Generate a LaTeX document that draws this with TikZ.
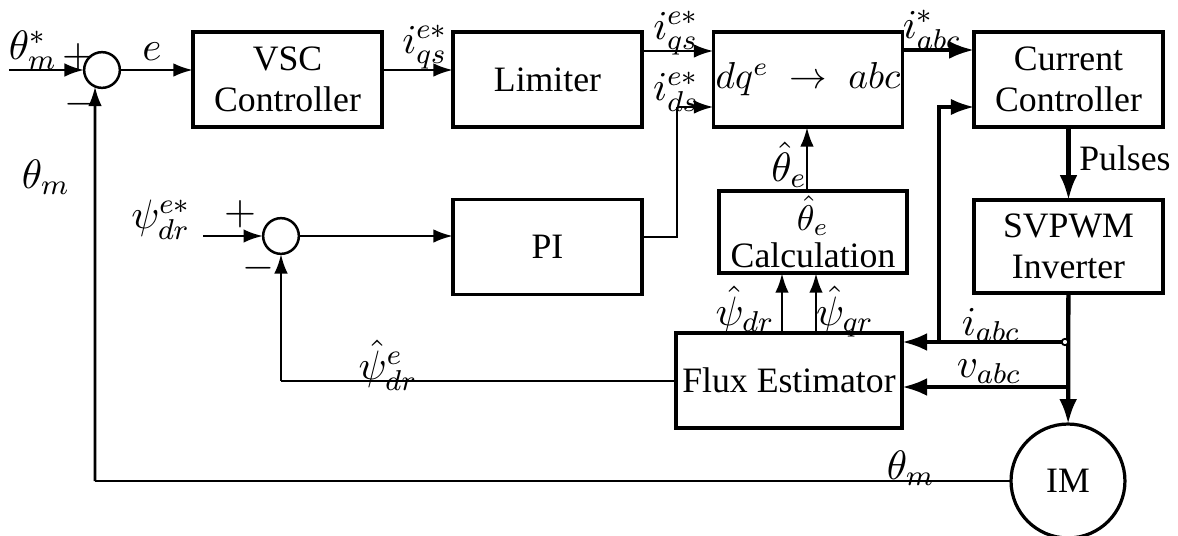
\documentclass[tikz,border=0pt]{standalone}
\usepackage{fix-cm}
\usepackage{fontspec}
\setmainfont{Liberation Serif}
\usetikzlibrary{arrows.meta}
\begin{document}
\begin{tikzpicture}[x=0.28pt,y=-0.28pt,
  blk/.style={draw,line width=0.9pt,inner sep=0pt,outer sep=0pt,minimum width=52.9pt,minimum height=26.6pt,align=center,font=\fontsize{10}{11.5}\selectfont},
  sumc/.style={draw,circle,line width=0.7pt,inner sep=0pt,outer sep=0pt,minimum size=10pt},
  arr/.style={line width=0.8pt,-{Latex[length=5.5pt,width=3.8pt]}},
  tarr/.style={line width=1.2pt,-{Latex[length=7pt,width=5pt]}},
  thinln/.style={line width=0.45pt},
  lbl/.style={inner sep=0pt,font=\fontsize{11.5}{13}\selectfont}]

\useasboundingbox (0,0) rectangle (1178,536);

% blocks
\node[blk] (vsc) at (287.5,79.5) {VSC\\Controller};
\node[blk] (lim) at (547.5,79.5) {Limiter};
\node[blk,font=\fontsize{10.5}{12}\selectfont] (dq) at (808,79.5) {$dq^e\;\rightarrow\;abc$};
\node[blk] (cc) at (1068.5,79.5) {Current\\Controller};
\node[blk] (pi) at (547.5,247) {PI};
\node[blk,minimum width=52.6pt,minimum height=23pt,font=\fontsize{10}{10.5}\selectfont] (calc) at (813,232) {$\hat\theta_e$\\Calculation};
\node[blk,minimum height=26pt] (svp) at (1068.5,246.5) {SVPWM\\Inverter};
\node[blk,minimum width=63.3pt] (flux) at (789,380.5) {Flux Estimator};
\node[draw,circle,line width=0.9pt,minimum size=31.9pt,inner sep=0pt,outer sep=0pt,font=\fontsize{10}{12}\selectfont] (im) at (1068,481) {IM};
\node[sumc] (s1) at (102,70) {};
\node[sumc] (s2) at (281,236) {};

% coordinates
\coordinate (in1) at (9,70);
\coordinate (in2) at (203,236);
\coordinate (kd) at (677,107);
\coordinate (ja) at (1068,342);
\coordinate (jv) at (1068,387);
\coordinate (kc) at (939,342);
\coordinate (kp) at (281,381);
\coordinate (kt) at (95,481);

% connectors
\draw[arr] (in1) -- (s1);
\draw[arr] (s1) -- (s1 -| vsc.west);
\draw[arr] (vsc.east |- 0,70) -- (lim.west |- 0,70);
\draw[arr] (lim.east |- 0,51) -- (dq.west |- 0,51);
\draw[thinln] (pi.east |- 0,237) -| (kd);
\draw[arr] (kd) -- (dq.west |- kd);
\draw[line width=1.1pt,-{Latex[length=7pt,width=5pt]}] (dq.east |- 0,50) -- (cc.west |- 0,50);
\draw[tarr] (cc) -- (svp);
\draw[tarr] (svp) -- (im);
\draw[tarr] (ja) -- (flux.east |- ja);
\draw[tarr] (jv) -- (flux.east |- jv);
\draw[line width=0.9pt,-{Latex[length=6.5pt,width=4.6pt]}] (kc) |- (cc.west |- 0,107);
\draw[arr] (flux.north -| 782,0) -- (calc.south -| 782,0);
\draw[arr] (flux.north -| 816,0) -- (calc.south -| 816,0);
\draw[arr] (calc.north -| 807,0) -- (dq.south -| 807,0);
\draw[thinln] (flux.west |- kp) -- (kp);
\draw[arr] (kp) -- (s2);
\draw[thinln] (im.west) -- (kt);
\draw[arr] (kt) -- (s1.247);
\draw[arr] (in2) -- (s2);
\draw[arr] (s2) -- (s2 -| pi.west);
\draw[line width=0.5pt,fill=white] (1065,342) circle (0.9pt);

% labels
\node[lbl] (lthref) at (33,50) {$\theta_m^*$};
\node[lbl] (lp1) at (78,57) {$+$};
\node[lbl] (lm1) at (80,104) {$-$};
\node[lbl] (lthm) at (46,177) {$\theta_m$};
\node[lbl] (le) at (152,52) {$e$};
\node[lbl] (liq1) at (425,47) {$i_{qs}^{e*}$};
\node[lbl] (liq2) at (676,33) {$i_{qs}^{e*}$};
\node[lbl] (lid) at (676,92) {$i_{ds}^{e*}$};
\node[lbl] (liabcs) at (932,30) {$i_{abc}^{*}$};
\node[lbl,font=\fontsize{10}{12}\selectfont] (lpul) at (1125,158) {Pulses};
\node[lbl] (lthe) at (789,165) {$\hat\theta_e$};
\node[lbl] (lpsd) at (745,310) {$\hat\psi_{dr}$};
\node[lbl] (lpsq) at (845,312) {$\hat\psi_{qr}$};
\node[lbl] (lpsref) at (161,220) {$\psi_{dr}^{e*}$};
\node[lbl] (lp2) at (240,214) {$+$};
\node[lbl] (lm2) at (258,268) {$-$};
\node[lbl] (lpse) at (388,365) {$\hat\psi_{dr}^{e}$};
\node[lbl] (liabc) at (991,325) {$i_{abc}$};
\node[lbl] (lvabc) at (989,372) {$v_{abc}$};
\node[lbl] (lthm2) at (911,468) {$\theta_m$};
\end{tikzpicture}
\end{document}
